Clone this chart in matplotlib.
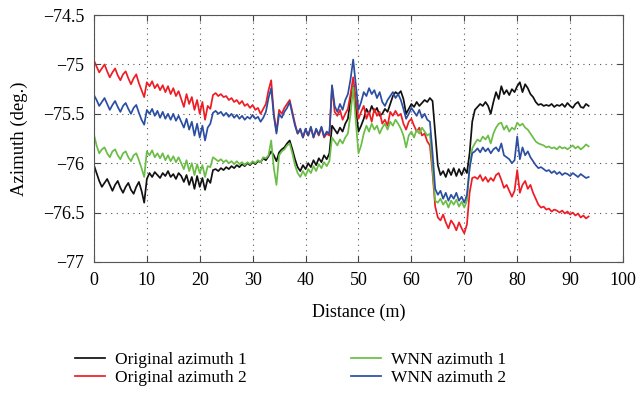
import numpy as np
import matplotlib
matplotlib.use('Agg')
import matplotlib.pyplot as plt
from matplotlib.ticker import FuncFormatter

# Azimuth readings sampled every 0.5 m along the track (0 .. 93.5 m)
step_m = 0.5

orig_az1 = [
    -76.02, -76.10, -76.18, -76.24, -76.20, -76.16, -76.22, -76.28, -76.22, -76.18,
    -76.25, -76.30, -76.24, -76.20, -76.27, -76.31, -76.24, -76.19, -76.28, -76.40,
    -76.16, -76.10, -76.14, -76.09, -76.12, -76.15, -76.10, -76.13, -76.08, -76.14,
    -76.11, -76.16, -76.10, -76.13, -76.19, -76.12, -76.22, -76.14, -76.26, -76.13,
    -76.24, -76.15, -76.27, -76.16, -76.20, -76.07, -76.06, -76.08, -76.05, -76.07,
    -76.04, -76.06, -76.03, -76.05, -76.02, -76.04, -76.01, -76.03, -76.00, -76.02,
    -75.99, -76.01, -75.98, -75.99, -75.95, -75.97, -75.93, -75.88, -75.92, -75.98,
    -75.89, -75.86, -75.84, -75.80, -75.77, -75.86, -75.96, -76.04, -76.08, -76.02,
    -76.06, -76.00, -76.04, -75.97, -76.02, -75.95, -75.99, -75.92, -75.96, -75.90,
    -75.62, -75.66, -75.70, -75.64, -75.68, -75.60, -75.55, -75.35, -75.22, -75.45,
    -75.68, -75.62, -75.55, -75.45, -75.50, -75.42, -75.48, -75.44, -75.52, -75.50,
    -75.45, -75.48, -75.40, -75.32, -75.28, -75.30, -75.27, -75.35, -75.50, -75.45,
    -75.40, -75.43, -75.38, -75.42, -75.39, -75.36, -75.38, -75.34, -75.37, -75.70,
    -76.02, -76.12, -76.08, -76.14, -76.06, -76.12, -76.05, -76.13, -76.06, -76.12,
    -76.05, -76.10, -75.90, -75.58, -75.46, -75.43, -75.40, -75.42, -75.38, -75.42,
    -75.50, -75.38, -75.28, -75.35, -75.22, -75.30, -75.26, -75.31, -75.25, -75.28,
    -75.22, -75.18, -75.28, -75.20, -75.24, -75.30, -75.33, -75.38, -75.41, -75.40,
    -75.42, -75.41, -75.42, -75.40, -75.43, -75.41, -75.42, -75.40, -75.43, -75.39,
    -75.42, -75.44, -75.40, -75.38, -75.43, -75.44, -75.40, -75.42,
]

orig_az2 = [
    -74.96, -75.02, -75.08, -75.04, -75.00, -75.07, -75.13, -75.08, -75.04, -75.11,
    -75.16, -75.10, -75.07, -75.14, -75.20, -75.14, -75.10, -75.19, -75.26, -75.33,
    -75.18, -75.22, -75.17, -75.24, -75.20, -75.26, -75.21, -75.28, -75.22, -75.30,
    -75.24, -75.32, -75.27, -75.35, -75.43, -75.30, -75.40, -75.33, -75.46, -75.36,
    -75.50, -75.38, -75.56, -75.42, -75.45, -75.31, -75.29, -75.32, -75.30, -75.33,
    -75.32, -75.36, -75.34, -75.38, -75.36, -75.40, -75.37, -75.42, -75.40, -75.44,
    -75.41, -75.46, -75.44, -75.50, -75.45, -75.40, -75.26, -75.16, -75.50, -75.68,
    -75.46, -75.50, -75.44, -75.40, -75.36, -75.48, -75.60, -75.70, -75.66, -75.74,
    -75.66, -75.72, -75.64, -75.74, -75.66, -75.72, -75.64, -75.74, -75.70, -75.72,
    -75.22, -75.48, -75.52, -75.46, -75.56, -75.50, -75.45, -75.30, -75.13, -75.35,
    -75.55, -75.48, -75.42, -75.55, -75.48, -75.58, -75.45, -75.52, -75.48, -75.60,
    -75.56, -75.62, -75.48, -75.52, -75.47, -75.52, -75.50, -75.60, -75.66, -75.58,
    -75.55, -75.62, -75.68, -75.64, -75.72, -75.70, -75.78, -75.82, -76.10, -76.44,
    -76.55, -76.58, -76.52, -76.60, -76.66, -76.58, -76.62, -76.68, -76.60, -76.66,
    -76.71, -76.62, -76.30, -76.15, -76.14, -76.16, -76.12, -76.18, -76.14, -76.19,
    -76.15, -76.18, -76.12, -76.10, -76.17, -76.25, -76.22, -76.28, -76.34, -76.28,
    -76.07, -76.30, -76.22, -76.18, -76.26, -76.22, -76.30, -76.36, -76.42, -76.45,
    -76.44, -76.47, -76.46, -76.49, -76.47, -76.48, -76.50, -76.48, -76.51, -76.49,
    -76.52, -76.50, -76.53, -76.51, -76.55, -76.53, -76.56, -76.54,
]

wnn_az1 = [
    -75.71, -75.82, -75.90, -75.86, -75.84, -75.90, -75.94, -75.88, -75.86, -75.92,
    -75.96, -75.90, -75.88, -75.94, -75.98, -75.92, -75.90, -75.97, -76.05, -76.14,
    -75.88, -75.92, -75.87, -75.94, -75.90, -75.95, -75.90, -75.97, -75.92, -75.98,
    -75.93, -75.99, -75.94, -76.00, -76.06, -75.97, -76.08, -76.00, -76.12, -76.01,
    -76.10, -76.02, -76.14, -76.03, -76.04, -75.94, -75.96, -75.98, -75.96, -75.99,
    -75.97, -76.00, -75.98, -76.01, -75.98, -76.01, -75.99, -76.02, -75.99, -76.01,
    -75.98, -76.00, -75.97, -75.99, -75.94, -75.95, -75.92, -75.77, -76.05, -76.22,
    -75.92, -75.88, -75.86, -75.82, -75.80, -75.90, -76.02, -76.10, -76.14, -76.08,
    -76.13, -76.06, -76.10, -76.03, -76.08, -76.01, -76.05, -75.99, -76.03, -75.98,
    -75.74, -75.78, -75.82, -75.76, -75.80, -75.74, -75.70, -75.50, -75.23, -75.58,
    -75.90, -75.82, -75.70, -75.62, -75.68, -75.60, -75.66, -75.62, -75.70, -75.64,
    -75.60, -75.66, -75.58, -75.62, -75.56, -75.60, -75.65, -75.72, -75.84, -75.72,
    -75.68, -75.74, -75.66, -75.70, -75.64, -75.68, -75.72, -75.70, -76.05, -76.38,
    -76.40, -76.36, -76.42, -76.38, -76.45, -76.38, -76.42, -76.37, -76.44, -76.39,
    -76.45, -76.38, -76.05, -75.85, -75.80, -75.76, -75.78, -75.73, -75.76, -75.72,
    -75.80, -75.70, -75.64, -75.60, -75.59, -75.66, -75.62, -75.68, -75.64, -75.66,
    -75.59, -75.62, -75.60, -75.64, -75.66, -75.70, -75.74, -75.78, -75.80, -75.81,
    -75.82, -75.84, -75.83, -75.85, -75.84, -75.86, -75.83, -75.85, -75.84, -75.86,
    -75.84, -75.82, -75.85, -75.83, -75.86, -75.84, -75.81, -75.83,
]

wnn_az2 = [
    -75.31, -75.36, -75.42, -75.38, -75.34, -75.40, -75.46, -75.41, -75.37, -75.43,
    -75.48, -75.42, -75.39, -75.45, -75.50, -75.44, -75.41, -75.49, -75.56, -75.61,
    -75.46, -75.50, -75.45, -75.52, -75.47, -75.54, -75.48, -75.55, -75.50, -75.56,
    -75.50, -75.57, -75.52, -75.58, -75.64, -75.55, -75.66, -75.58, -75.72, -75.60,
    -75.74, -75.62, -75.77, -75.64, -75.60, -75.49, -75.47, -75.50, -75.48, -75.52,
    -75.49, -75.53, -75.50, -75.54, -75.51, -75.55, -75.52, -75.56, -75.53, -75.55,
    -75.51, -75.55, -75.53, -75.58, -75.54, -75.48, -75.34, -75.24, -75.52, -75.70,
    -75.50, -75.54, -75.48, -75.44, -75.38, -75.50, -75.62, -75.70, -75.65, -75.74,
    -75.65, -75.72, -75.63, -75.74, -75.65, -75.71, -75.63, -75.73, -75.68, -75.70,
    -75.21, -75.42, -75.48, -75.40, -75.46, -75.36, -75.30, -75.15, -74.95, -75.20,
    -75.46, -75.38, -75.28, -75.32, -75.24, -75.30, -75.26, -75.34, -75.28, -75.38,
    -75.42, -75.36, -75.32, -75.28, -75.34, -75.30, -75.36, -75.45, -75.55, -75.50,
    -75.44, -75.48, -75.52, -75.46, -75.54, -75.50, -75.56, -75.58, -75.90, -76.26,
    -76.32, -76.28, -76.36, -76.30, -76.38, -76.32, -76.36, -76.30, -76.38, -76.34,
    -76.40, -76.32, -76.05, -75.90, -75.88, -75.85, -75.89, -75.84, -75.88, -75.85,
    -75.90, -75.86, -75.84, -75.88, -75.80, -75.92, -75.94, -75.96, -76.00, -75.97,
    -75.73, -75.96, -75.84, -75.92, -75.88, -75.94, -75.98, -76.02, -76.05, -76.04,
    -76.06, -76.08, -76.07, -76.10, -76.08, -76.11, -76.09, -76.12, -76.10, -76.11,
    -76.13, -76.10, -76.12, -76.14, -76.11, -76.13, -76.15, -76.14,
]

series = [
    (orig_az1, 'Original azimuth 1', '#111111'),
    (orig_az2, 'Original azimuth 2', '#ee1c24'),
    (wnn_az1, 'WNN azimuth 1', '#6abd45'),
    (wnn_az2, 'WNN azimuth 2', '#2b4ea2'),
]

plt.rcParams['font.family'] = ['Liberation Serif', 'DejaVu Serif']

fig = plt.figure(figsize=(6.39, 3.98), dpi=100)
ax = fig.add_axes([0.147, 0.342, 0.828, 0.620])

for vals, label, color in series:
    dist = np.arange(len(vals)) * step_m
    ax.plot(dist, vals, color=color, lw=1.25, label=label)

ax.set_xlim(0, 100)
ax.set_ylim(-77, -74.5)
ax.set_xticks(np.arange(0, 101, 10))
ax.set_yticks(np.arange(-77, -74.49, 0.5))
ax.yaxis.set_major_formatter(FuncFormatter(lambda v, _: f"{v:g}".replace('-', '\u2212')))
ax.tick_params(direction='in', top=True, right=True, labelsize=13, length=4,
               color='#444444', pad=7)
ax.grid(True, linestyle=(0, (1, 4)), color='#555555', lw=0.8)
for s in ax.spines.values():
    s.set_color('#555555')

ax.set_xlabel('Distance (m)', fontsize=13, labelpad=11)
ax.set_ylabel('Azimuth (deg.)', fontsize=13.5, labelpad=11)

fig.legend(loc='upper left', bbox_to_anchor=(0.118, 0.117), ncol=2, frameon=False,
           fontsize=12.5, handlelength=1.7, handletextpad=0.6, columnspacing=6.0,
           borderpad=0, borderaxespad=0, labelspacing=0.15)

fig.savefig('out.png', dpi=100)
